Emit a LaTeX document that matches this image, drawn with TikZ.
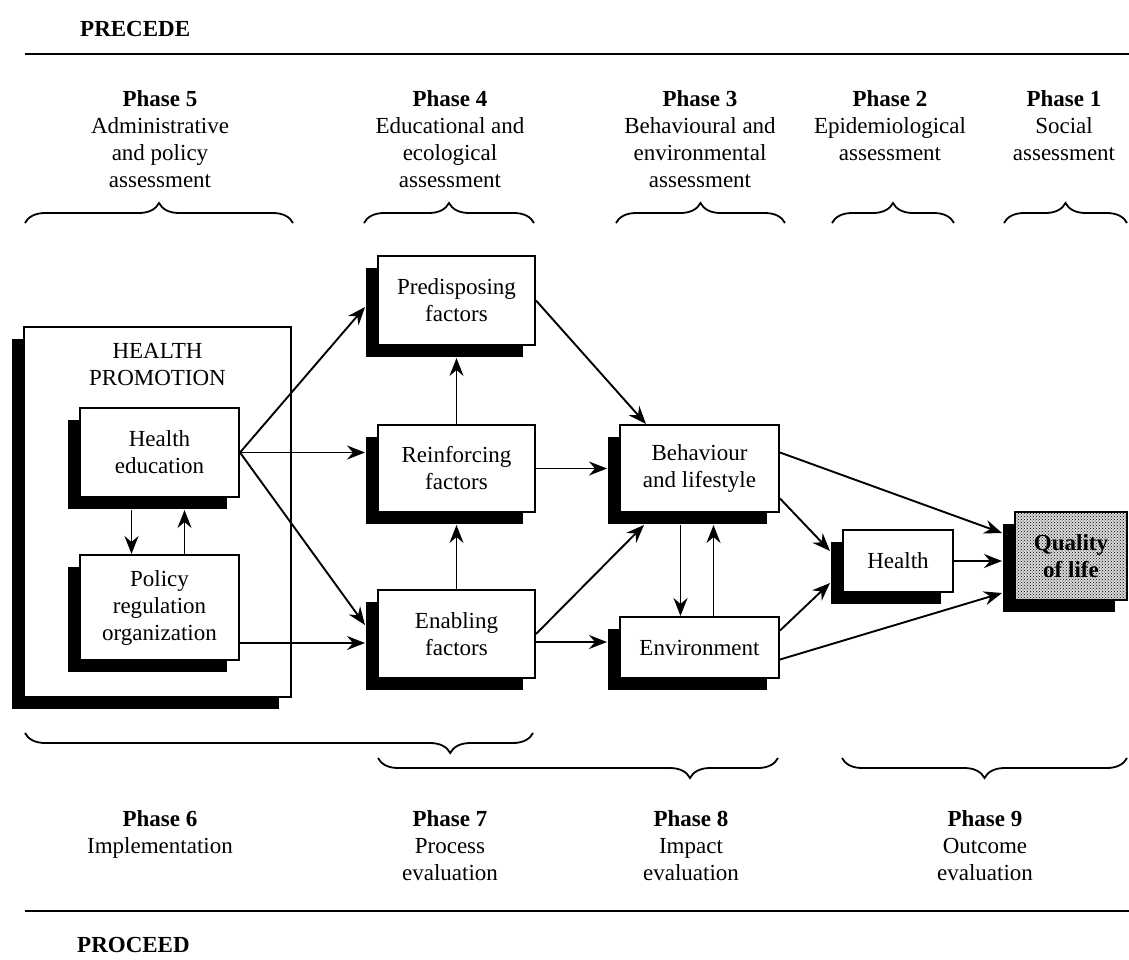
\documentclass[tikz,border=0pt]{standalone}
\usepackage{fontspec}
\setmainfont{Liberation Serif}
\usepackage{tikz}
\usetikzlibrary{arrows.meta,positioning,calc,shadows,decorations.pathreplacing,patterns}

\newcommand{\phfont}{\fontsize{23}{27}\selectfont}

\tikzset{
  box/.style={draw, line width=2pt, fill=white, align=center, inner sep=2pt,
    drop shadow={shadow xshift=-12pt, shadow yshift=-12pt, fill=black, opacity=1}},
  arr/.style={line width=1.9pt, -{Stealth[length=18pt,width=14pt,inset=6pt]}},
  phase/.style={align=center, anchor=north, inner sep=0pt},
  brc/.style={decorate, line width=1.8pt, decoration={brace, amplitude=20pt}},
}

\begin{document}
\begin{tikzpicture}[x=1pt, y=-1pt, every node/.style={font=\phfont}]
        % Page frame
        \fill[white] (0,0) rectangle (1129,959);
        \useasboundingbox (0,0) rectangle (1129,959);

        % PRECEDE heading and rule
        \node[anchor=west, inner sep=0pt] (precede) at (80,29) {\textbf{PRECEDE}};
        \draw[line width=2.4pt] (25,54) -- (1129,54);

        % Phase headers
        \node[phase] (ph5) at (160,90) {\textbf{Phase 5}\\Administrative\\and policy\\assessment};
        \node[phase] (ph4) at (450,90) {\textbf{Phase 4}\\Educational and\\ecological\\assessment};
        \node[phase] (ph3) at (700,90) {\textbf{Phase 3}\\Behavioural and\\environmental\\assessment};
        \node[phase] (ph2) at (890,90) {\textbf{Phase 2}\\Epidemiological\\assessment};
        \node[phase] (ph1) at (1064,90) {\textbf{Phase 1}\\Social\\assessment};

        % Braces under the headers
        \draw[brc] (25,223) -- (293,223);
        \draw[brc] (364,223) -- (534,223);
        \draw[brc] (616,223) -- (785,223);
        \draw[brc] (832,223) -- (954,223);
        \draw[brc] (1004,223) -- (1127,223);

        % Health promotion block
        \node[box, minimum width=267pt, minimum height=370pt] (hp) at (157.5,512) {};
        \node[phase] (hplab) at (157.5,343) {HEALTH\\PROMOTION};
        \node[box, minimum width=159pt, minimum height=89pt] (he) at (159.5,452.5) {Health\\education};
        \node[box, minimum width=159pt, minimum height=105pt] (pol) at (159.5,607.5) {Policy\\regulation\\organization};

        % Factor boxes
        \node[box, minimum width=157pt, minimum height=89pt] (pre) at (456.5,300.5) {Predisposing\\factors};
        \node[box, minimum width=157pt, minimum height=87pt] (rf) at (456.5,468.5) {Reinforcing\\factors};
        \node[box, minimum width=157pt, minimum height=88pt] (en) at (456.5,634) {Enabling\\factors};

        % Behaviour, environment, health, quality of life
        \node[box, minimum width=159pt, minimum height=87pt] (beh) at (699.5,468.5) {Behaviour\\and lifestyle};
        \node[box, minimum width=159pt, minimum height=61pt] (env) at (699.5,647.5) {Environment};
        \node[box, minimum width=110pt, minimum height=62pt] (hl) at (898,561) {Health};
        \node[box, minimum width=112pt, minimum height=88pt, fill=black!15,
              postaction={pattern=crosshatch dots, pattern color=black},
              font=\phfont\bfseries] (qol) at (1071,556) {Quality\\of life};

        % Arrows inside health promotion
        \draw[arr] ([xshift=-28pt,yshift=-12pt]he.south) -- ([xshift=-28pt]pol.north);
        \draw[arr] ([xshift=25pt]pol.north) -- ([xshift=25pt,yshift=-12pt]he.south);

        % Arrows to the factors
        \coordinate (pe) at (0,643);
        \draw[arr] (he.east) -- ([xshift=-12pt,yshift=-6.5pt]pre.west);
        \draw[arr, shorten >=12pt] (he.east) -- (he.east -| rf.west);
        \draw[arr] (he.east) -- ([xshift=-12pt,yshift=9pt]en.west);
        \draw[arr, shorten >=12pt] (pol.east |- pe) -- (en.west |- pe);
        \draw[arr] (rf.north) -- ([yshift=-12pt]pre.south);
        \draw[arr] (en.north) -- ([yshift=-12pt]rf.south);

        % Arrows to behaviour and environment
        \draw[arr] (pre.east) -- ([xshift=27pt]beh.north west);
        \draw[arr, shorten >=12pt] (rf.east) -- (beh.west);
        \draw[arr] (en.east) -- ([xshift=25pt,yshift=-12pt]beh.south west);
        \draw[arr, shorten >=12pt] ([yshift=-8pt]en.east) -- ([yshift=5.5pt]env.west);
        \draw[arr] ([xshift=-19pt,yshift=-12pt]beh.south) -- ([xshift=-19pt]env.north);
        \draw[arr] ([xshift=14pt]env.north) -- ([xshift=14pt,yshift=-12pt]beh.south);

        % Arrows to health and quality of life
        \draw[arr] ([yshift=16pt]beh.east) -- ([xshift=-12pt,yshift=23pt]qol.west);
        \draw[arr] ([yshift=-30pt]beh.east) -- ([xshift=-12pt,yshift=10pt]hl.west);
        \draw[arr, shorten >=12pt] (hl.east) -- (hl.east -| qol.west);
        \draw[arr] ([yshift=17pt]env.east) -- ([xshift=-12pt,yshift=-22pt]hl.west);
        \draw[arr] ([yshift=-12pt]env.east) -- ([xshift=-12pt,yshift=-37pt]qol.west);

        % Braces over the evaluation phases
        \draw[brc, decoration={mirror, aspect=0.837}] (25,733) -- (533,733);
        \draw[brc, decoration={mirror, aspect=0.78}] (378,758) -- (778,758);
        \draw[brc, decoration={mirror}] (842,758) -- (1127,758);

        % Evaluation phases
        \node[phase] (ph6) at (160,810) {\textbf{Phase 6}\\Implementation};
        \node[phase] (ph7) at (450,810) {\textbf{Phase 7}\\Process\\evaluation};
        \node[phase] (ph8) at (691,810) {\textbf{Phase 8}\\Impact\\evaluation};
        \node[phase] (ph9) at (985,810) {\textbf{Phase 9}\\Outcome\\evaluation};

        % PROCEED rule and heading
        \draw[line width=2.4pt] (25,911) -- (1129,911);
        \node[anchor=west, inner sep=0pt] (proceed) at (77,945) {\textbf{PROCEED}};
    \end{tikzpicture}
\end{document}
